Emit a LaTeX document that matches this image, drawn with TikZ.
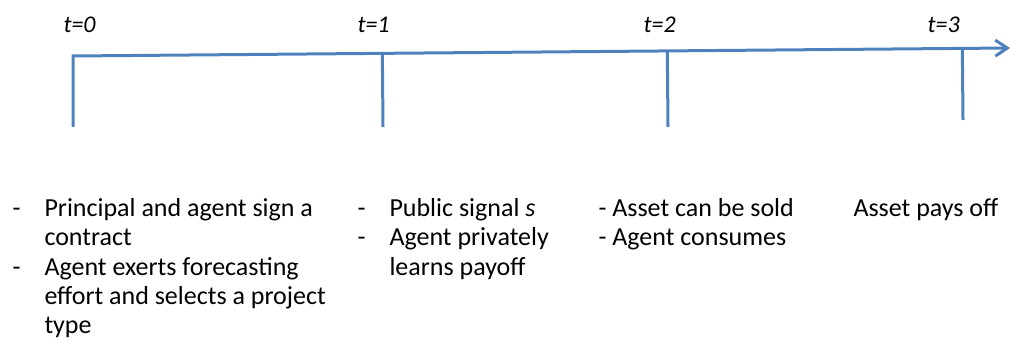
\documentclass[tikz,border=0pt]{standalone}
\usepackage{fontspec}
\setmainfont{Carlito}
\usetikzlibrary{arrows.meta, calc}
\definecolor{axisblue}{RGB}{79,129,189}

\begin{document}
\begin{tikzpicture}[x=0.5pt,y=-0.5pt,line width=1.5pt,draw=axisblue]
    \tikzstyle{every node}=[inner sep=0pt, font=\fontsize{13}{14.5}\selectfont]
    \tikzstyle{time label}=[anchor=base west, font=\fontsize{12}{14.5}\selectfont\itshape]
    \tikzstyle{hyphen}=[anchor=base west]
    \tikzstyle{event}=[anchor=base west, align=left]

    \useasboundingbox (0,0) rectangle (1011,352);

    % time axis, t=0 tick joined to it
    \coordinate (A-0) at (73,127);
    \coordinate (A-start) at (73,56);
    \coordinate (A-end) at (1010,48);
    \draw[-{Straight Barb[length=6pt,width=8pt]}] (A-0) -- (A-start) -- (A-end);

	\foreach \i/\x/\b in {1/383/127,2/668/127,3/963/120}{
		\coordinate (B-\i) at (\x,\b);
		\coordinate (T-\i) at ($(A-start)!(B-\i)!(A-end)$);
		\path[draw] (T-\i) -- (B-\i);
	}

	\foreach \i/\x in {0/62,1/356,2/642,3/926}{
		\node[time label] (L-\i) at (\x,33) {t=\i};
	}

    % events at t=0 (multi-line nodes sit on their last baseline)
    \node[hyphen] (H-0a) at (11,217) {-};
    \node[event] (E-0a) at (43,246) {Principal and agent sign a\\contract};
    \node[hyphen] (H-0b) at (11,275) {-};
    \node[event] (E-0b) at (43,333) {Agent exerts forecasting\\effort and selects a project\\type};

    % events at t=1
    \node[hyphen] (H-1a) at (356,217) {-};
    \node[event] (E-1a) at (388,217) {Public signal \textit{s}};
    \node[hyphen] (H-1b) at (356,246) {-};
    \node[event] (E-1b) at (388,275) {Agent privately\\learns payoff};

    % events at t=2 and t=3
    \node[event] (E-2) at (597,246) {- Asset can be sold\\- Agent consumes};
    \node[event] (E-3) at (852,217) {Asset pays off};
\end{tikzpicture}
\end{document}
